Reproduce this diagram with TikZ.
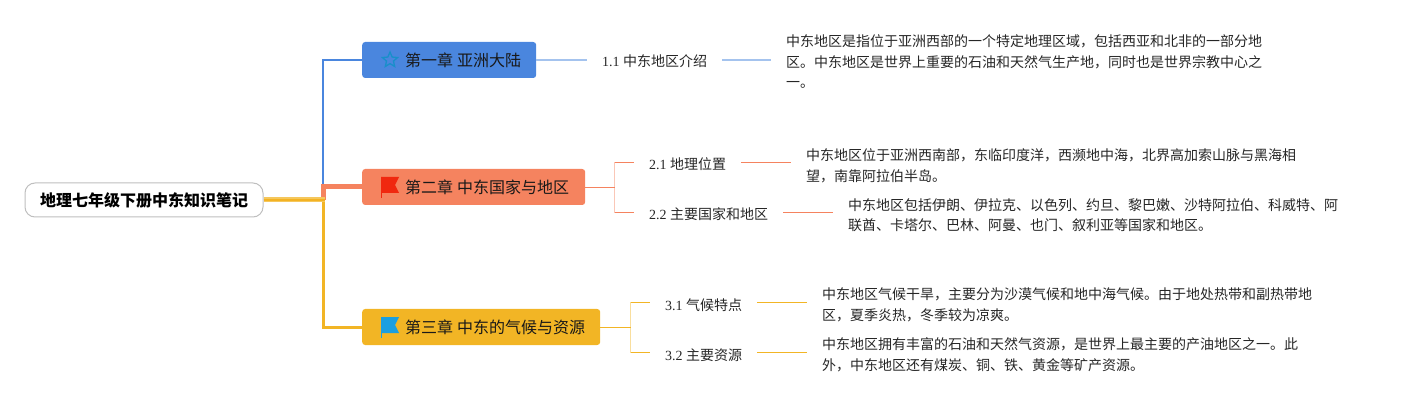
\documentclass[tikz,border=0pt]{standalone}
\usepackage{fontspec}
\setmainfont{Liberation Serif}
\newfontfamily\cjk{Noto Sans CJK SC}
\usetikzlibrary{shapes.geometric}
\definecolor{bluemain}{HTML}{4A86DE}
\definecolor{orangemain}{HTML}{F5835F}
\definecolor{yellowmain}{HTML}{F2B525}
\definecolor{iconblue}{HTML}{1B9FE0}
\definecolor{iconred}{HTML}{F0280F}
\tikzset{
  rootbox/.style={draw=gray!50,line width=1pt,rounded corners=10pt,fill=white,minimum width=238pt,minimum height=34pt,font=\fontsize{16}{18}\selectfont\cjk\bfseries},
  chapbox/.style={rounded corners=3pt,minimum height=36pt,anchor=west,inner xsep=0pt,align=left,font=\fontsize{16}{18}\selectfont\cjk,text=black!90},
  seclabel/.style={anchor=west,inner xsep=15pt,inner ysep=0pt,text height=15pt,text depth=0pt,font=\fontsize{14}{16}\selectfont,text=black!85},
  bodytext/.style={anchor=west,align=left,inner xsep=15pt,inner ysep=0pt,font=\fontsize{14}{20.5}\selectfont\cjk,text=black!85},
  pics/flagicon/.style={code={
    \fill[#1] (0,-17) -- (18,-17) -- (14,-9) -- (18,-1) -- (0,-1) -- cycle;
    \draw[#1,line width=0.8pt] (0,-17) -- (0,4);
  }}
}
\begin{document}
\begin{tikzpicture}[x=1pt,y=-1pt]
  \useasboundingbox (0,0) rectangle (1408,403);
  \coordinate (hub) at (323,200);
  \node[rootbox] (root) at (144,200) {地理七年级下册中东知识笔记};

  % chapters
  \node[chapbox,fill=bluemain,text width=174pt] (ch1) at (362,60) {\hspace*{43pt}第一章\hspace{4pt}亚洲大陆};
  \node[chapbox,fill=orangemain,text width=223pt] (ch2) at (362,187) {\hspace*{43pt}第二章\hspace{4pt}中东国家与地区};
  \node[chapbox,fill=yellowmain,text width=238pt] (ch3) at (362,327) {\hspace*{43pt}第三章\hspace{4pt}中东的气候与资源};

  % trunk
  \draw[bluemain,line width=2.5pt] (hub) |- (ch1.west);
  \draw[yellowmain,line width=3pt] (hub) |- (ch3.west);
  \draw[orangemain,line width=5pt] (hub) |- (ch2.west);
  \draw[yellowmain!75!white,line width=5pt] (root.east) -- ([xshift=1.5pt]hub);
  \draw[yellowmain!95!orange,line width=2.5pt] (root.east) -- ([xshift=1.5pt]hub);

  % icons
  \node[star,star points=5,star point ratio=2.2,draw=iconblue!90!black,line width=1.3pt,minimum size=16pt,inner sep=0pt] (staricon) at (390,60) {};
  \pic at (381,194) {flagicon=iconred};
  \pic at (381,334) {flagicon=iconblue};

  % sections
  \node[seclabel,text height=13pt] (sec11) at (587,60) {1.1 {\cjk 中东地区介绍}};
  \node[seclabel] (sec21) at (634,162.5) {2.1 {\cjk 地理位置}};
  \node[seclabel] (sec22) at (634,212.5) {2.2 {\cjk 主要国家和地区}};
  \node[seclabel] (sec31) at (650,302.5) {3.1 {\cjk 气候特点}};
  \node[seclabel] (sec32) at (650,352.5) {3.2 {\cjk 主要资源}};

  \node[bodytext] (txt11) at (771,62) {中东地区是指位于亚洲西部的一个特定地理区域，包括西亚和北非的一部分地\\区。中东地区是世界上重要的石油和天然气生产地，同时也是世界宗教中心之\\一。};
  \node[bodytext] (txt21) at (791,166) {中东地区位于亚洲西南部，东临印度洋，西濒地中海，北界高加索山脉与黑海相\\望，南靠阿拉伯半岛。};
  \node[bodytext] (txt22) at (833,215) {中东地区包括伊朗、伊拉克、以色列、约旦、黎巴嫩、沙特阿拉伯、科威特、阿\\联酋、卡塔尔、巴林、阿曼、也门、叙利亚等国家和地区。};
  \node[bodytext] (txt31) at (807,305) {中东地区气候干旱，主要分为沙漠气候和地中海气候。由于地处热带和副热带地\\区，夏季炎热，冬季较为凉爽。};
  \node[bodytext] (txt32) at (807,355) {中东地区拥有丰富的石油和天然气资源，是世界上最主要的产油地区之一。此\\外，中东地区还有煤炭、铜、铁、黄金等矿产资源。};

  % branches
  \coordinate (fork2) at (614.5,187.5);
  \coordinate (fork3) at (630.5,327.5);
  \draw[bluemain!50!white,line width=2pt] (ch1.east) -- (sec11.west);
  \draw[bluemain!50!white,line width=2pt] (sec11.east) -- (sec11.east -| txt11.west);
  \draw[orangemain!45!white,line width=1.3pt] (fork2) |- (sec21.west);
  \draw[orangemain!45!white,line width=1.3pt] (fork2) |- (sec22.west);
  \draw[orangemain,line width=1pt] (ch2.east |- fork2) -- (fork2);
  \draw[orangemain,line width=1pt] (sec21.west -| fork2) -- (sec21.west);
  \draw[orangemain,line width=1pt] (sec22.west -| fork2) -- (sec22.west);
  \draw[orangemain,line width=1pt] (sec21.east) -- (sec21.east -| txt21.west);
  \draw[orangemain,line width=1pt] (sec22.east) -- (sec22.east -| txt22.west);
  \draw[yellowmain!45!white,line width=1.3pt] (fork3) |- (sec31.west);
  \draw[yellowmain!45!white,line width=1.3pt] (fork3) |- (sec32.west);
  \draw[yellowmain,line width=1pt] (ch3.east |- fork3) -- (fork3);
  \draw[yellowmain,line width=1pt] (sec31.west -| fork3) -- (sec31.west);
  \draw[yellowmain,line width=1pt] (sec32.west -| fork3) -- (sec32.west);
  \draw[yellowmain,line width=1pt] (sec31.east) -- (sec31.east -| txt31.west);
  \draw[yellowmain,line width=1pt] (sec32.east) -- (sec32.east -| txt32.west);
\end{tikzpicture}
\end{document}
